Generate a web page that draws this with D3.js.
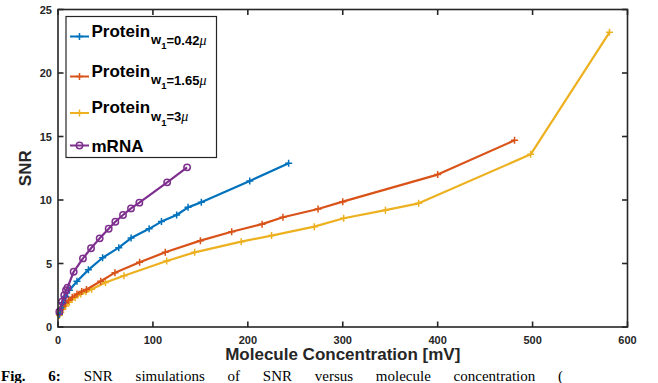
<!DOCTYPE html>
<html><head><meta charset="utf-8">
<script src="https://cdn.jsdelivr.net/npm/d3@7"></script>
<style>body{margin:0;background:#fff}svg{display:block}</style>
</head><body>
<svg id="c" width="658" height="383"></svg>
<script>
const xTicks = [0,100,200,300,400,500,600];
const yTicks = [0,5,10,15,20,25];

const blueX = [1.5,3,5,8,12,20,32,47,64,77,96,109,125,137,151,202,243];
const blueY = [1.0,1.5,1.9,2.4,2.9,3.6,4.5,5.45,6.25,7.0,7.73,8.3,8.82,9.42,9.82,11.5,12.9];
const orangeX = [1.5,3,5,8,11,15,20,25,30,45,60,86,113,150,183,215,237,274,300,400,481];
const orangeY = [1.0,1.35,1.6,1.9,2.1,2.35,2.6,2.8,2.95,3.6,4.28,5.1,5.88,6.8,7.5,8.1,8.64,9.29,9.87,12.0,14.7];
const yellowX = [1.4,3,5,8,12,18,24,29.5,35.5,50,69.5,114.5,144,193,225,270,301,345,380,498,581];
const yellowY = [0.9,1.15,1.4,1.65,1.95,2.3,2.6,2.78,2.97,3.5,4.04,5.2,5.88,6.72,7.2,7.9,8.56,9.2,9.74,13.6,23.2];
const mrnaX = [1.4,4.2,6.6,8.4,10,16.5,26.3,34.8,43.9,53.4,60.4,68.5,76.9,85.7,115,136];
const mrnaY = [1.2,2.0,2.5,2.9,3.1,4.35,5.4,6.2,6.98,7.74,8.29,8.82,9.34,9.79,11.39,12.57];

const series = [
  {sub:"=0.42", name:"Protein", color:"#0072BD", marker:"plus", xs:blueX, ys:blueY},
  {sub:"=1.65", name:"Protein", color:"#D95319", marker:"plus", xs:orangeX, ys:orangeY},
  {sub:"=3", name:"Protein", color:"#EDB120", marker:"plus", xs:yellowX, ys:yellowY},
  {sub:null, name:"mRNA", color:"#7E2F8E", marker:"circle", xs:mrnaX, ys:mrnaY}
];

const svg = d3.select("#c");
const L=58, R=627.5, T=9.5, B=327;
const x = d3.scaleLinear().domain([0,600]).range([L,R]);
const y = d3.scaleLinear().domain([0,25]).range([B,T]);
const axisColor="#262626";
const font="Liberation Sans, Arial, sans-serif";

const line = d3.line().x(d=>x(d[0])).y(d=>y(d[1]));
function drawMarker(g, px, py, s){
  if(s.marker==="plus"){
    g.append("path").attr("d",`M${px-3.5},${py}H${px+3.5}M${px},${py-3.5}V${py+3.5}`)
      .attr("stroke",s.color).attr("stroke-width",1.5).attr("fill","none");
  } else {
    g.append("circle").attr("cx",px).attr("cy",py).attr("r",3.2)
      .attr("stroke",s.color).attr("stroke-width",1.5).attr("fill","none");
  }
}
const plot = svg.append("g");
[series[2],series[1],series[0],series[3]].forEach(s=>{
  const pts = s.xs.map((v,i)=>[v,s.ys[i]]);
  plot.append("path").datum(pts).attr("d",line).attr("fill","none")
    .attr("stroke",s.color).attr("stroke-width",2.2).attr("stroke-linejoin","round");
  pts.forEach(p=>drawMarker(plot,x(p[0]),y(p[1]),s));
});

const ax = svg.append("g");
ax.append("rect").attr("x",L).attr("y",T).attr("width",R-L).attr("height",B-T)
  .attr("fill","none").attr("stroke",axisColor).attr("stroke-width",1.6);
const tl=5.5;
xTicks.forEach(t=>{
  ax.append("line").attr("x1",x(t)).attr("x2",x(t)).attr("y1",B).attr("y2",B-tl).attr("stroke",axisColor).attr("stroke-width",1.6);
  ax.append("line").attr("x1",x(t)).attr("x2",x(t)).attr("y1",T).attr("y2",T+tl).attr("stroke",axisColor).attr("stroke-width",1.6);
  ax.append("text").attr("x",x(t)).attr("y",B+17).attr("text-anchor","middle")
    .attr("font-family",font).attr("font-weight","bold").attr("font-size",11).attr("fill",axisColor).text(t);
});
yTicks.forEach(t=>{
  ax.append("line").attr("x1",L).attr("x2",L+tl).attr("y1",y(t)).attr("y2",y(t)).attr("stroke",axisColor).attr("stroke-width",1.6);
  ax.append("line").attr("x1",R).attr("x2",R-tl).attr("y1",y(t)).attr("y2",y(t)).attr("stroke",axisColor).attr("stroke-width",1.6);
  ax.append("text").attr("x",L-6).attr("y",y(t)+4).attr("text-anchor","end")
    .attr("font-family",font).attr("font-weight","bold").attr("font-size",11).attr("fill",axisColor).text(t);
});
svg.append("text").attr("x",(L+R)/2).attr("y",360).attr("text-anchor","middle")
  .attr("font-family",font).attr("font-weight","bold").attr("font-size",17).attr("fill",axisColor)
  .text("Molecule Concentration [mV]");
svg.append("text").attr("transform",`translate(31,${(T+B)/2}) rotate(-90)`).attr("text-anchor","middle")
  .attr("font-family",font).attr("font-weight","bold").attr("font-size",17).attr("fill",axisColor)
  .text("SNR");

// legend
const lg = svg.append("g");
lg.append("rect").attr("x",66).attr("y",16.5).attr("width",150.5).attr("height",141)
  .attr("fill","#fff").attr("stroke",axisColor).attr("stroke-width",1.2);
const rowY=[36.5,76.5,113,145.5];
series.forEach((s,i)=>{
  const yy=rowY[i];
  lg.append("line").attr("x1",70).attr("x2",89).attr("y1",yy).attr("y2",yy).attr("stroke",s.color).attr("stroke-width",2);
  drawMarker(lg,79.5,yy,s);
  const t = lg.append("text").attr("x",91.5).attr("y",yy+(s.sub?0:6)).attr("font-family",font)
    .attr("font-weight","bold").attr("fill","#000").attr("font-size",17);
  t.append("tspan").text(s.name);
  if(s.sub){
    t.append("tspan").attr("font-size",13).attr("dy",7.5).attr("dx",1).text("w");
    t.append("tspan").attr("font-size",9.5).attr("dy",5).text("1");
    t.append("tspan").attr("font-size",13).attr("dy",-4.5).text(s.sub);
    t.append("tspan").attr("font-size",14).attr("font-style","italic").attr("font-weight","normal")
      .attr("font-family","Liberation Serif, serif").text("μ");
  }
});

// caption (cut off at the bottom in the source)
const cap = svg.append("text").attr("x",1).attr("y",381).attr("font-family","Liberation Serif, Times New Roman, serif")
  .attr("font-size",15).attr("fill","#000");
cap.append("tspan").attr("font-weight","bold").text("Fig. 6:");
cap.append("tspan").text(" SNR simulations of SNR versus molecule concentration (");
const w = cap.node().getComputedTextLength();
const spaces = 9;
cap.attr("word-spacing", Math.max(0,(562-w)/spaces));
</script>
</body></html>
